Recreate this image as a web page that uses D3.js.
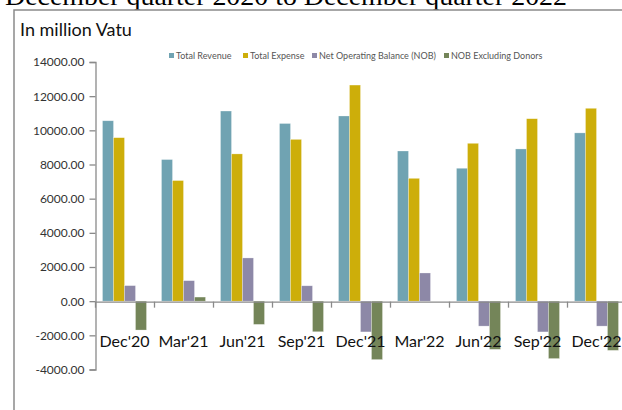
<!DOCTYPE html>
<head>
  <meta charset="utf-8">
  <script src="https://cdnjs.cloudflare.com/ajax/libs/d3/7.8.5/d3.min.js"></script>
  <style>body { margin: 0; background: #fff } svg { display: block }</style>
</head>

<body>
  <div id="chart"></div>

  <script>
    const quarters = ["Dec'20", "Mar'21", "Jun'21", "Sep'21", "Dec'21", "Mar'22", "Jun'22", "Sep'22", "Dec'22"];
    const seriesNames = ['Total Revenue', 'Total Expense', 'Net Operating Balance (NOB)', 'NOB Excluding Donors'];
    const revenue = [10560, 8290, 11130, 10400, 10840, 8790, 7780, 8910, 9850];
    const expense = [9570, 7060, 8620, 9470, 12650, 7190, 9240, 10680, 11290];
    const nob = [910, 1200, 2530, 900, -1800, 1650, -1460, -1800, -1460];
    const nobExDonors = [-1690, 240, -1360, -1790, -3420, 0, -2820, -3360, -2880];
    const yTicks = [-4000, -2000, 0, 2000, 4000, 6000, 8000, 10000, 12000, 14000];
    const colors = ['#70a3b2', '#cdae0a', '#8d88a7', '#748559'];

    const width = 622;
    const height = 410;
    const FONT = 'Lato, "Open Sans", sans-serif';

    const svg = d3.select('#chart').append('svg')
      .attr('width', width)
      .attr('height', height);

    // heading of the page above, cut off by the crop as in the source
    svg.append('text')
      .attr('x', 5).attr('y', 5)
      .attr('font-family', '"Liberation Serif", "Times New Roman", serif')
      .attr('font-size', 25)
      .attr('textLength', 562).attr('lengthAdjust', 'spacingAndGlyphs')
      .attr('fill', '#000')
      .text('December quarter  2020 to December quarter  2022');

    // chart frame
    svg.append('path')
      .attr('d', 'M14,' + height + 'V10H' + width)
      .attr('fill', 'none')
      .attr('stroke', '#8a8a8a')
      .attr('stroke-width', 1.5);

    svg.append('text')
      .attr('x', 20).attr('y', 36)
      .attr('font-family', FONT)
      .attr('font-size', 18)
      .attr('fill', '#111')
      .text('In million Vatu');

    const rows = quarters.map((q, i) => ({
      q, vals: [revenue[i], expense[i], nob[i], nobExDonors[i]]
    }));

    const x0 = d3.scaleBand().domain(quarters).range([95, 95 + 59 * quarters.length]);
    const x1 = d3.scaleBand().domain(d3.range(4)).range([7.5, 51.5]);
    const y = d3.scaleLinear().domain([-4000, 14000]).range([369.5, 62]);

    const fmt = d => d3.format('.2f')(d).replace('\u2212', '-');

    // y axis
    const yAxis = svg.append('g')
      .attr('transform', 'translate(95.5,0)')
      .call(d3.axisLeft(y).tickValues(yTicks).tickFormat(fmt).tickSize(6).tickPadding(5));
    yAxis.select('.domain').attr('stroke', '#8a8a8a').attr('stroke-width', 1.3);
    yAxis.selectAll('.tick line').attr('stroke', '#8a8a8a').attr('stroke-width', 1.3);
    yAxis.selectAll('.tick text')
      .attr('font-family', FONT).attr('font-size', 12).attr('fill', '#333');

    // bars
    svg.append('g').selectAll('g')
      .data(rows)
      .join('g')
      .attr('transform', d => 'translate(' + x0(d.q) + ',0)')
      .selectAll('rect')
      .data(d => d.vals.map((v, k) => ({ v, k })))
      .join('rect')
      .attr('x', d => x1(d.k))
      .attr('width', x1.bandwidth())
      .attr('y', d => y(Math.max(0, d.v)))
      .attr('height', d => Math.abs(y(d.v) - y(0)))
      .attr('fill', d => colors[d.k])
      .attr('stroke', 'rgba(255,255,255,0.45)')
      .attr('stroke-width', 0.6);

    // x axis at zero
    const xAxis = svg.append('g')
      .attr('transform', 'translate(0,' + (y(0) + 0.5) + ')')
      .call(d3.axisBottom(x0).tickValues(quarters.slice(1)).tickSize(6).tickFormat(''));
    xAxis.select('.domain').attr('stroke', '#8a8a8a').attr('stroke-width', 1.3);
    xAxis.selectAll('.tick').attr('transform', d => 'translate(' + (x0(d) + 0.5) + ',0)');
    xAxis.selectAll('.tick line').attr('stroke', '#8a8a8a').attr('stroke-width', 1.3);

    // category labels sit on top of the bars
    svg.append('g').selectAll('text')
      .data(quarters)
      .join('text')
      .attr('x', d => x0(d) + x0.bandwidth() / 2)
      .attr('y', 347)
      .attr('text-anchor', 'middle')
      .attr('font-family', FONT)
      .attr('font-size', 16)
      .attr('fill', '#111')
      .text(d => d);

    // legend
    const legendX = [169, 243, 312, 444];
    const legend = svg.append('g').selectAll('g')
      .data(seriesNames)
      .join('g')
      .attr('transform', (d, i) => 'translate(' + legendX[i] + ',56)');
    legend.append('rect')
      .attr('x', 0).attr('y', -3)
      .attr('width', 5).attr('height', 5)
      .attr('fill', (d, i) => colors[i]);
    legend.append('text')
      .attr('x', 7).attr('y', 3)
      .attr('font-family', FONT)
      .attr('font-size', 9)
      .attr('fill', '#555')
      .text(d => d);
  </script>
</body>
